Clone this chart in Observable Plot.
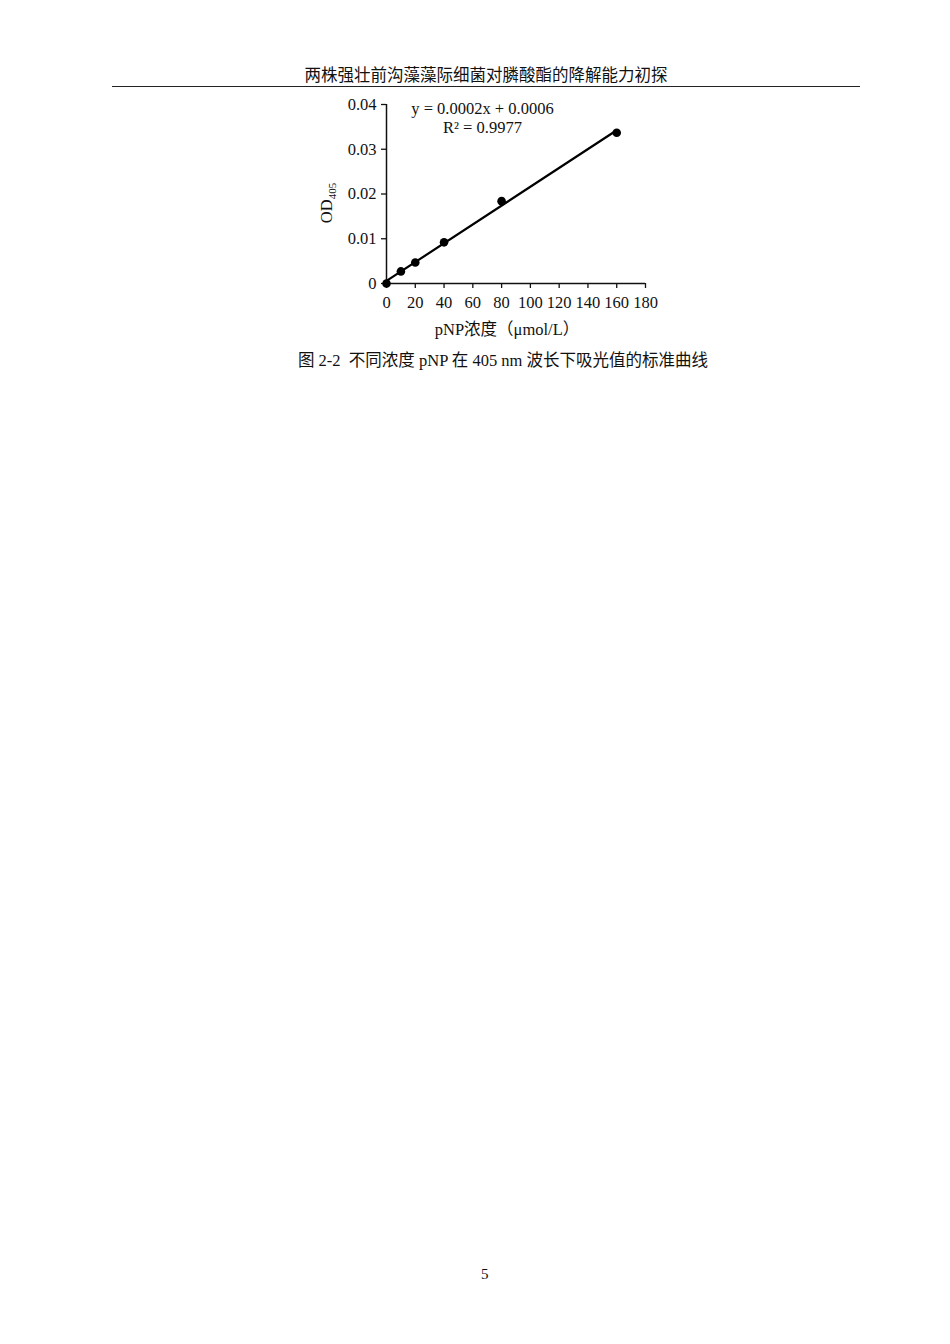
<!DOCTYPE html>
<html><head><meta charset="utf-8">
<script src="https://cdn.jsdelivr.net/npm/d3@7"></script>
<script src="https://cdn.jsdelivr.net/npm/@observablehq/plot@0.6"></script>
<style>
body{margin:0;background:#fff;width:950px;height:1344px;position:relative;font-family:"Liberation Serif","Noto Sans CJK SC",serif;color:#111;}
#hdr{position:absolute;left:0;width:950px;top:62px;text-align:center;font-size:16.5px;padding-left:22px;box-sizing:border-box}
#rule{position:absolute;left:112px;width:748px;top:86px;height:0;border-top:1.5px solid #222}
#chart{position:absolute;left:300px;top:90px}
#cap{position:absolute;left:0;width:950px;top:347px;text-align:center;font-size:16.5px;padding-left:56px;box-sizing:border-box}
#pg{position:absolute;left:481px;top:1266px;font-size:15px}
</style></head>
<body>
<div id="hdr">两株强壮前沟藻藻际细菌对膦酸酯的降解能力初探</div>
<div id="rule"></div>
<div id="chart"></div>
<div id="cap">图 2-2&nbsp; 不同浓度 pNP 在 405 nm 波长下吸光值的标准曲线</div>
<div id="pg">5</div>
<script>
const concentrations = [0, 10, 20, 40, 80, 160];
const od405 = [0, 0.0027, 0.0047, 0.0092, 0.0184, 0.0337];
const xTicks = [0, 20, 40, 60, 80, 100, 120, 140, 160, 180];
const yTicks = [0, 0.01, 0.02, 0.03, 0.04];
const equationLines = ["y = 0.0002x + 0.0006", "R² = 0.9977"];

const data = concentrations.map((c, i) => ({x: c, y: od405[i]}));
const font = '"Liberation Serif","Noto Sans CJK SC",serif';
const yFmt = d => d === 0 ? "0" : d3.format(".2f")(d);

const plot = Plot.plot({
  width: 370, height: 260,
  marginLeft: 86, marginRight: 25, marginTop: 14, marginBottom: 67,
  style: {fontFamily: font, fontSize: "16.5px", color: "#111", background: "transparent"},
  x: {domain: [0, 180], label: null},
  y: {domain: [0, 0.04], label: null},
  marks: [
    Plot.axisX({ticks: xTicks, tickSize: 5, tickPadding: 8, fontSize: 16.5, stroke: "#111", strokeWidth: 1.3}),
    Plot.axisY({ticks: yTicks, tickSize: 5, tickPadding: 5, fontSize: 16.5, stroke: "#111", strokeWidth: 1.3, tickFormat: yFmt}),
    Plot.ruleX([0], {stroke: "#111", strokeWidth: 1.5}),
    Plot.ruleY([0], {stroke: "#111", strokeWidth: 1.5}),
    Plot.linearRegressionY(data, {x: "x", y: "y", stroke: "#000", strokeWidth: 2.2, ci: 0}),
    Plot.dot(data, {x: "x", y: "y", r: 4.3, fill: "#000"}),
    Plot.text(equationLines, {x: [66.7, 66.7], y: [0.0391, 0.0347], text: d => d, fontSize: 16.5, fill: "#111"})
  ]
});
document.getElementById("chart").appendChild(plot);

const svg = d3.select(plot);
svg.append("text").attr("x", 207).attr("y", 245).attr("text-anchor", "middle")
  .attr("font-family", font).attr("font-size", 16.5).attr("fill", "#111")
  .text("pNP浓度（μmol/L）");
const yl = svg.append("text").attr("transform", "translate(32,113) rotate(-90)")
  .attr("text-anchor", "middle").attr("font-family", font).attr("font-size", 16.5).attr("fill", "#111");
yl.append("tspan").text("OD");
yl.append("tspan").attr("font-size", 11).attr("dy", 4).text("405");
</script>
</body></html>
